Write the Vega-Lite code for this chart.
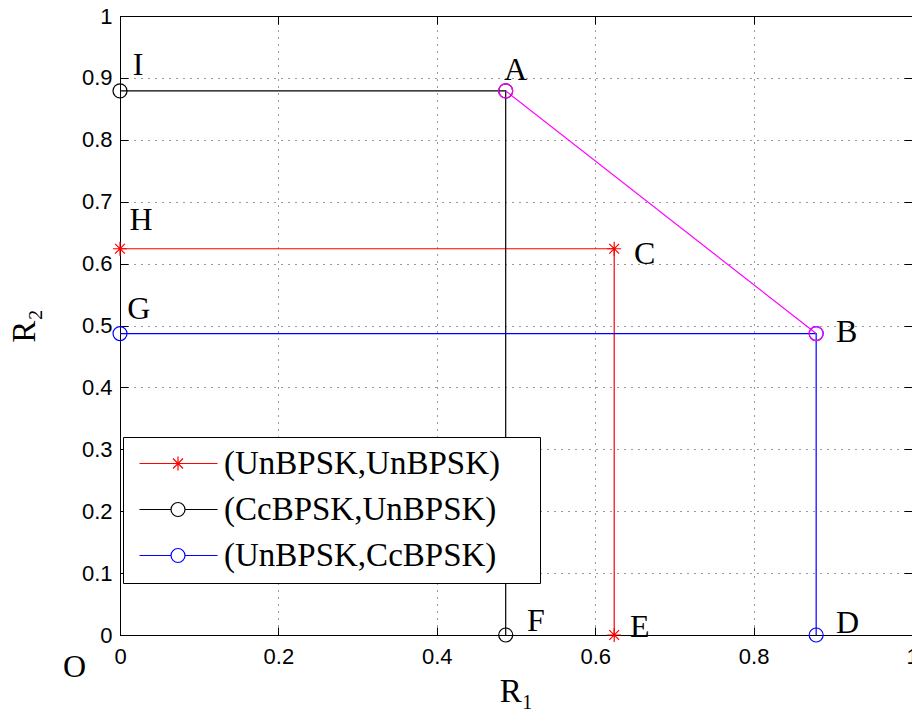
{
  "$schema": "https://vega.github.io/schema/vega-lite/v6.json",
  "autosize": {"type": "none"},
  "width": 792,
  "height": 619,
  "padding": {"left": 120, "top": 16, "right": 0, "bottom": 84},
  "background": "white",
  "config": {
    "view": {"stroke": "black", "strokeWidth": 1},
    "axis": {
      "labelFont": "Liberation Sans",
      "labelFontSize": 22,
      "labelColor": "black",
      "labelFlush": false,
      "titleFont": "Liberation Serif",
      "titleFontSize": 33,
      "titleFontWeight": "normal",
      "titleColor": "black",
      "domainColor": "black",
      "tickColor": "black",
      "gridColor": "black",
      "gridDash": [1, 6],
      "gridOpacity": 0.8,
      "gridWidth": 1
    }
  },
  "datasets": {
    "pts": [
      {"series": "(UnBPSK,UnBPSK)", "o": 1, "x": 0, "y": 0.624},
      {"series": "(UnBPSK,UnBPSK)", "o": 2, "x": 0.624, "y": 0.624},
      {"series": "(UnBPSK,UnBPSK)", "o": 3, "x": 0.624, "y": 0},
      {"series": "(CcBPSK,UnBPSK)", "o": 1, "x": 0, "y": 0.879},
      {"series": "(CcBPSK,UnBPSK)", "o": 2, "x": 0.487, "y": 0.879},
      {"series": "(CcBPSK,UnBPSK)", "o": 3, "x": 0.487, "y": 0},
      {"series": "(UnBPSK,CcBPSK)", "o": 1, "x": 0, "y": 0.487},
      {"series": "(UnBPSK,CcBPSK)", "o": 2, "x": 0.879, "y": 0.487},
      {"series": "(UnBPSK,CcBPSK)", "o": 3, "x": 0.879, "y": 0},
      {"series": "AB", "o": 1, "x": 0.487, "y": 0.879},
      {"series": "AB", "o": 2, "x": 0.879, "y": 0.487}
    ],
    "labels": [
      {"label": "I", "x": 0.016, "y": 0.921},
      {"label": "A", "x": 0.485, "y": 0.913},
      {"label": "H", "x": 0.012, "y": 0.670},
      {"label": "C", "x": 0.649, "y": 0.616},
      {"label": "G", "x": 0.009, "y": 0.527},
      {"label": "B", "x": 0.904, "y": 0.489},
      {"label": "F", "x": 0.514, "y": 0.023},
      {"label": "E", "x": 0.644, "y": 0.013},
      {"label": "D", "x": 0.904, "y": 0.019},
      {"label": "O", "x": -0.072, "y": -0.051}
    ]
  },
  "resolve": {"axis": {"x": "independent", "y": "independent"}},
  "layer": [
    {
      "data": {"name": "pts"},
      "mark": {"type": "line", "strokeWidth": 1.2},
      "encoding": {
        "x": {"field": "x", "type": "quantitative", "scale": {"domain": [0, 1], "nice": false, "zero": false},
              "axis": {"title": "R₁", "values": [0, 0.2, 0.4, 0.6, 0.8, 1], "format": "~g", "grid": true, "tickSize": -8, "labelPadding": 19, "titlePadding": 8, "domain": true}},
        "y": {"field": "y", "type": "quantitative", "scale": {"domain": [0, 1], "nice": false, "zero": false},
              "axis": {"title": "R₂", "values": [0, 0.1, 0.2, 0.3, 0.4, 0.5, 0.6, 0.7, 0.8, 0.9, 1], "format": "~g", "grid": true, "tickSize": -8, "labelPadding": 16, "titlePadding": 40, "domain": true}},
        "color": {"field": "series", "type": "nominal",
                  "scale": {"domain": ["(UnBPSK,UnBPSK)", "(CcBPSK,UnBPSK)", "(UnBPSK,CcBPSK)", "AB"], "range": ["#ff0000", "#000000", "#0000ff", "#ff00ff"]},
                  "legend": {
                    "orient": "none", "legendX": 3, "legendY": 421,
                    "title": null,
                    "values": ["(UnBPSK,UnBPSK)", "(CcBPSK,UnBPSK)", "(UnBPSK,CcBPSK)"],
                    "strokeColor": "black", "fillColor": "white", "padding": 10,
                    "labelFont": "Liberation Serif", "labelFontSize": 33, "labelColor": "black",
                    "labelLimit": 0,
                    "labelOffset": 58, "rowPadding": 12,
                    "symbolSize": 100, "symbolStrokeWidth": 1.2,
                    "encode": {"symbols": {"update": {
                      "shape": {"signal": "datum.value === '(UnBPSK,UnBPSK)' ? 'M-2,0H13.6M5.7,-1.4V1.4M4.7,-1L6.7,1M4.7,1L6.7,-1M75.6,0' : 'M-2,0H4.3M7.1,0H13.6M7.1,0A1.4,1.4,0,1,1,4.3,0A1.4,1.4,0,1,1,7.1,0M75.6,0'"},
                      "fill": {"value": "transparent"},
                      "strokeWidth": {"value": 1.2}
                    }}}
                  }},
        "order": {"field": "o", "type": "quantitative"}
      }
    },
    {
      "data": {"name": "pts"},
      "transform": [{"filter": "datum.series !== '(UnBPSK,UnBPSK)'"}],
      "mark": {"type": "point", "filled": false, "size": 196, "strokeWidth": 1.2, "opacity": 1, "shape": "circle"},
      "encoding": {
        "x": {"field": "x", "type": "quantitative", "axis": null},
        "y": {"field": "y", "type": "quantitative", "axis": null},
        "color": {"field": "series", "type": "nominal", "legend": null}
      }
    },
    {
      "data": {"name": "pts"},
      "transform": [{"filter": "datum.series === '(UnBPSK,UnBPSK)'"}],
      "mark": {"type": "point", "filled": false, "size": 196, "strokeWidth": 1.2, "opacity": 1, "shape": "M0,-1V1M-1,0H1M-0.7,-0.7L0.7,0.7M-0.7,0.7L0.7,-0.7"},
      "encoding": {
        "x": {"field": "x", "type": "quantitative", "axis": null},
        "y": {"field": "y", "type": "quantitative", "axis": null},
        "color": {"field": "series", "type": "nominal", "legend": null}
      }
    },
    {
      "data": {"name": "labels"},
      "mark": {"type": "text", "font": "Liberation Serif", "fontSize": 32, "align": "left", "baseline": "middle", "color": "black"},
      "encoding": {
        "x": {"field": "x", "type": "quantitative", "axis": null},
        "y": {"field": "y", "type": "quantitative", "axis": null},
        "text": {"field": "label"}
      }
    },
    {
      "data": {"name": "pts"},
      "mark": {"type": "point", "opacity": 0},
      "encoding": {
        "x": {"field": "x", "type": "quantitative",
              "axis": {"orient": "top", "title": null, "labels": false, "grid": false, "values": [0, 0.2, 0.4, 0.6, 0.8, 1], "tickSize": -8}},
        "y": {"field": "y", "type": "quantitative",
              "axis": {"orient": "right", "title": null, "labels": false, "grid": false, "values": [0, 0.1, 0.2, 0.3, 0.4, 0.5, 0.6, 0.7, 0.8, 0.9, 1], "tickSize": -8}}
      }
    }
  ]
}
